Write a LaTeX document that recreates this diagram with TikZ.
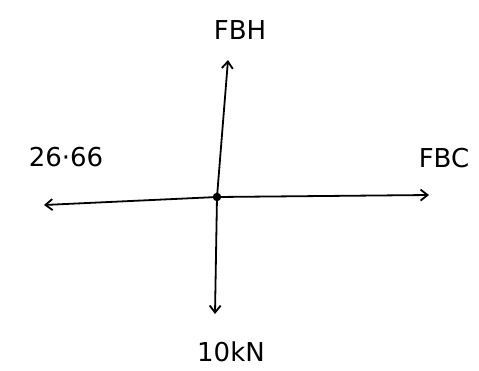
\documentclass[tikz,border=0pt]{standalone}
\usepackage{fontspec}
\setmainfont{DejaVu Sans}
\usetikzlibrary{arrows.meta}
\begin{document}
\begin{tikzpicture}[x=1pt,y=-1pt,
  force/.style={line width=1.8pt,-{Straight Barb[length=7pt,width=11pt]}},
  lbl/.style={font=\fontsize{26}{30}\selectfont}]
\useasboundingbox (0,0) rectangle (479,370);
\fill[white] (0,0) rectangle (479,370);
\node[circle,fill,inner sep=3pt] (o) at (217,197) {};
\coordinate (up) at (228,60);
\coordinate (lf) at (44,205);
\coordinate (rt) at (429,195);
\coordinate (dn) at (215,314);
\draw[force] (o.center) -- (up);
\draw[force] (o.center) -- (lf);
\draw[force] (o.center) -- (rt);
\draw[force] (o.center) -- (dn);
\node[lbl] (fbh) at (240,30) {FBH};
\node[lbl] (p) at (66,157) {26·66};
\node[lbl] (fbc) at (444,158) {FBC};
\node[lbl] (w) at (231,352) {10kN};
\end{tikzpicture}
\end{document}
